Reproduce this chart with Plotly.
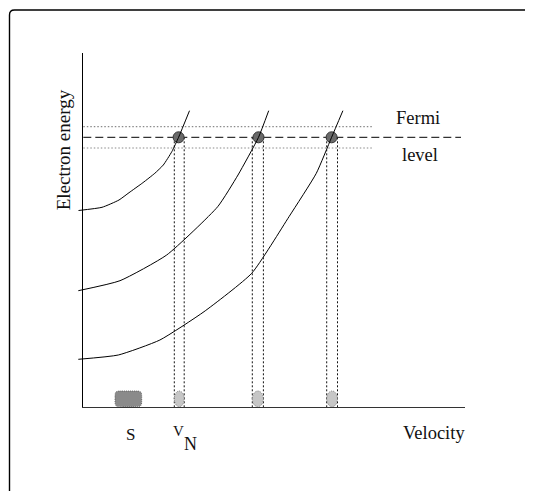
import plotly.graph_objects as go

# ---------------- data (velocity / energy units, origin at the axes corner) -------------
curve1_v = [-4.8, 18.7, 35.7, 45.7, 59.6, 71.5, 80.0, 88.5, 95.3, 106.2]
curve1_e = [196.5, 199.7, 207.0, 214.3, 224.3, 233.7, 242.0, 255.3, 269.7, 296.3]
curve2_v = [-5.0, 36.7, 83.4, 134.4, 154.7, 175.2, 185.4]
curve2_e = [116.3, 126.3, 152.0, 200.3, 232.0, 269.7, 296.3]
curve3_v = [-5.0, 35.0, 76.6, 120.7, 168.4, 205.7, 233.0, 248.3, 259.6]
curve3_e = [47.7, 52.0, 67.0, 95.3, 133.7, 190.3, 233.7, 269.7, 296.3]

fermi_energy = 269.7
band_upper = 280.3
band_lower = 259.0
fermi_v = [95.3, 175.2, 248.3]          # where each curve meets the Fermi level
band_left_v = [91.0, 169.0, 243.4]
band_right_v = [100.9, 180.1, 254.2]
band_line_end_v = 290.0
fermi_line_end_v = 377.7
s_blob_v = [31.7, 58.4]
blob_e = [0.3, 16.0]

x_range_main = [0, 381.7]
y_range_main = [0, 354.3]

# ---------------- geometry of the figure -----------------------------------------------
PAGE_OFF = 8                     # default body margin of the page
W, H = 533 - PAGE_OFF, 493 - PAGE_OFF
ax_left_px, ax_right_px = 83.3 - PAGE_OFF, 465.0 - PAGE_OFF
ax_top_px, ax_bottom_px = 52.7 - PAGE_OFF, 407.0 - PAGE_OFF

fig = go.Figure()

# empty trace to instantiate the main axes (they carry the axis lines)
fig.add_trace(go.Scatter(x=[], y=[], xaxis="x", yaxis="y", showlegend=False))

dot_gray = dict(color="#8a8a8a", width=1.2, dash="1.5px,2px")
for e in (band_upper, band_lower):
    fig.add_trace(go.Scatter(x=[0, band_line_end_v], y=[e, e], mode="lines",
                             line=dot_gray, xaxis="x2", yaxis="y2",
                             showlegend=False, hoverinfo="skip"))
fig.add_trace(go.Scatter(x=[0, fermi_line_end_v], y=[fermi_energy, fermi_energy],
                         mode="lines", line=dict(color="black", width=1, dash="8px,4px"),
                         xaxis="x2", yaxis="y2", showlegend=False, hoverinfo="skip"))
vx, vy = [], []
for a, b in zip(band_left_v, band_right_v):
    for v in (a, b):
        vx += [v, v, None]
        vy += [fermi_energy, 0, None]
fig.add_trace(go.Scatter(x=vx, y=vy, mode="lines",
                         line=dict(color="#111111", width=1, dash="2px,2px"),
                         xaxis="x2", yaxis="y2", showlegend=False, hoverinfo="skip"))
fig.add_trace(go.Scatter(x=fermi_v, y=[fermi_energy] * len(fermi_v), mode="markers",
                         marker=dict(size=11, color="#6a6a6a",
                                     line=dict(color="#333333", width=1)),
                         xaxis="x2", yaxis="y2", showlegend=False, hoverinfo="skip"))
for cv, ce in ((curve1_v, curve1_e), (curve2_v, curve2_e), (curve3_v, curve3_e)):
    fig.add_trace(go.Scatter(x=cv, y=ce, mode="lines",
                             line=dict(color="black", width=1, shape="spline",
                                       smoothing=0.5),
                             xaxis="x2", yaxis="y2", showlegend=False, hoverinfo="skip"))

shapes = []
for a, b in zip(band_left_v, band_right_v):
    shapes.append(dict(type="circle", xref="x2", yref="y2", x0=a, x1=b,
                       y0=blob_e[0], y1=blob_e[1], fillcolor="#c6c6c6",
                       line=dict(color="#666666", width=0.8, dash="1px,1px")))
a, b = s_blob_v
y0, y1 = blob_e
ym = (y0 + y1) / 2
r = (y1 - y0) / 2
s_path = (f"M {a + r},{y0} L {b - r},{y0} C {b},{y0} {b},{y0} {b},{ym} C {b},{y1} {b},{y1} {b - r},{y1} "
          f"L {a + r},{y1} C {a},{y1} {a},{y1} {a},{ym} C {a},{y0} {a},{y0} {a + r},{y0} Z")
shapes.append(dict(type="path", xref="x2", yref="y2", path=s_path,
                   fillcolor="#8a8a8a", line=dict(color="#555555", width=0.8, dash="1px,1px")))
px = lambda x: (x - PAGE_OFF) / W
py = lambda y: 1 - (y - PAGE_OFF) / H
frame = (f"M {px(9.5)},{py(491)} L {px(9.5)},{py(15)} "
         f"Q {px(9.5)},{py(10)} {px(14.5)},{py(10)} L {px(533)},{py(10)}")
shapes.append(dict(type="path", xref="paper", yref="paper", path=frame,
                   line=dict(color="black", width=1.4)))

serif = "Liberation Serif, Times New Roman, serif"
ann = []
def label(text, v, e, size, angle=0):
    ann.append(dict(text=text, x=v, y=e, xref="x2", yref="y2", showarrow=False,
                    xanchor="center", yanchor="middle", textangle=angle,
                    font=dict(family=serif, size=size, color="#111111")))

label("Fermi", 335.0, 289.5, 18.5)
label("level", 336.2, 252.5, 18.5)
label("Velocity", 350.2, -26.0, 18.5)
label("S", 47.2, -27.0, 17)
label("V", 95.4, -23.5, 15)
label("N", 107.5, -36.5, 18)
label("Electron energy", -20.0, 257.0, 19, angle=-90)

axis_common = dict(showgrid=False, zeroline=False, showticklabels=False, ticks="")
fig.update_layout(
    width=W, height=H,
    margin=dict(l=0, r=0, t=0, b=0),
    paper_bgcolor="white", plot_bgcolor="rgba(0,0,0,0)",
    showlegend=False,
    xaxis=dict(domain=[ax_left_px / W, ax_right_px / W], range=x_range_main,
               showline=True, linecolor="#333333", linewidth=1.3, anchor="y",
               **axis_common),
    yaxis=dict(domain=[1 - ax_bottom_px / H, 1 - ax_top_px / H], range=y_range_main,
               showline=True, linecolor="black", linewidth=1, anchor="x",
               **axis_common),
    xaxis2=dict(domain=[0, 1], range=[-ax_left_px, W - ax_left_px], visible=False,
                anchor="y2", **axis_common),
    yaxis2=dict(domain=[0, 1], range=[-(H - ax_bottom_px), ax_bottom_px], visible=False,
                anchor="x2", **axis_common),
    shapes=shapes,
    annotations=ann,
)

fig.write_html("out.html")
